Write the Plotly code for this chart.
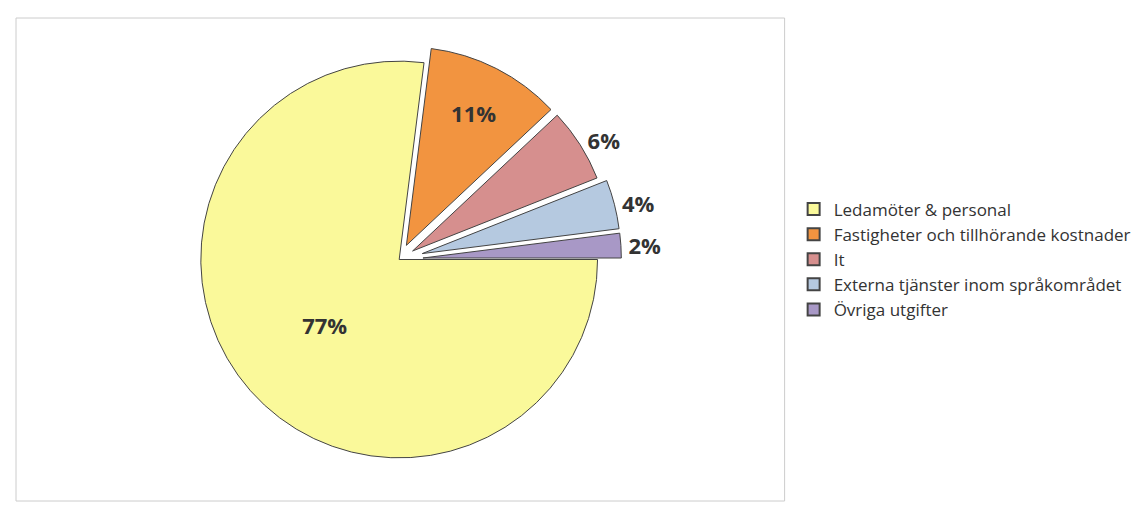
import plotly.graph_objects as go

labels = ["Ledamöter & personal", "Fastigheter och tillhörande kostnader", "It",
          "Externa tjänster inom språkområdet", "Övriga utgifter"]
values = [77, 11, 6, 4, 2]
colors = ["#faf99a", "#f29440", "#d68f8e", "#b5c9e0", "#a898c6"]

fig = go.Figure(go.Pie(
    labels=labels, values=values, sort=False, direction="clockwise", rotation=90,
    marker=dict(colors=colors, line=dict(color="#444444", width=1)),
    pull=[0, 0.08, 0.08, 0.12, 0.12],
    texttemplate="%{percent:.0%}",
    textposition=["inside", "inside", "outside", "outside", "outside"],
    textfont=dict(family="Open Sans", size=22, color="#333333", weight="bold"),
    insidetextorientation="horizontal",
    automargin=False,
    domain=dict(x=[0.05, 0.63], y=[0.04, 0.96]),
))

fig.update_layout(
    width=1145, height=505, autosize=False,
    margin=dict(l=8, r=10, t=10, b=12, autoexpand=False),
    paper_bgcolor="white",
    font=dict(family="Open Sans", size=17, color="#333333"),
    legend=dict(x=0.69, y=0.5, yanchor="middle", xanchor="left",
                font=dict(size=17), itemsizing="constant"),
    shapes=[dict(type="rect", xref="paper", yref="paper", x0=0, x1=0.682, y0=0, y1=1,
                 line=dict(color="#cccccc", width=1))],
)

fig.write_html("out.html")
